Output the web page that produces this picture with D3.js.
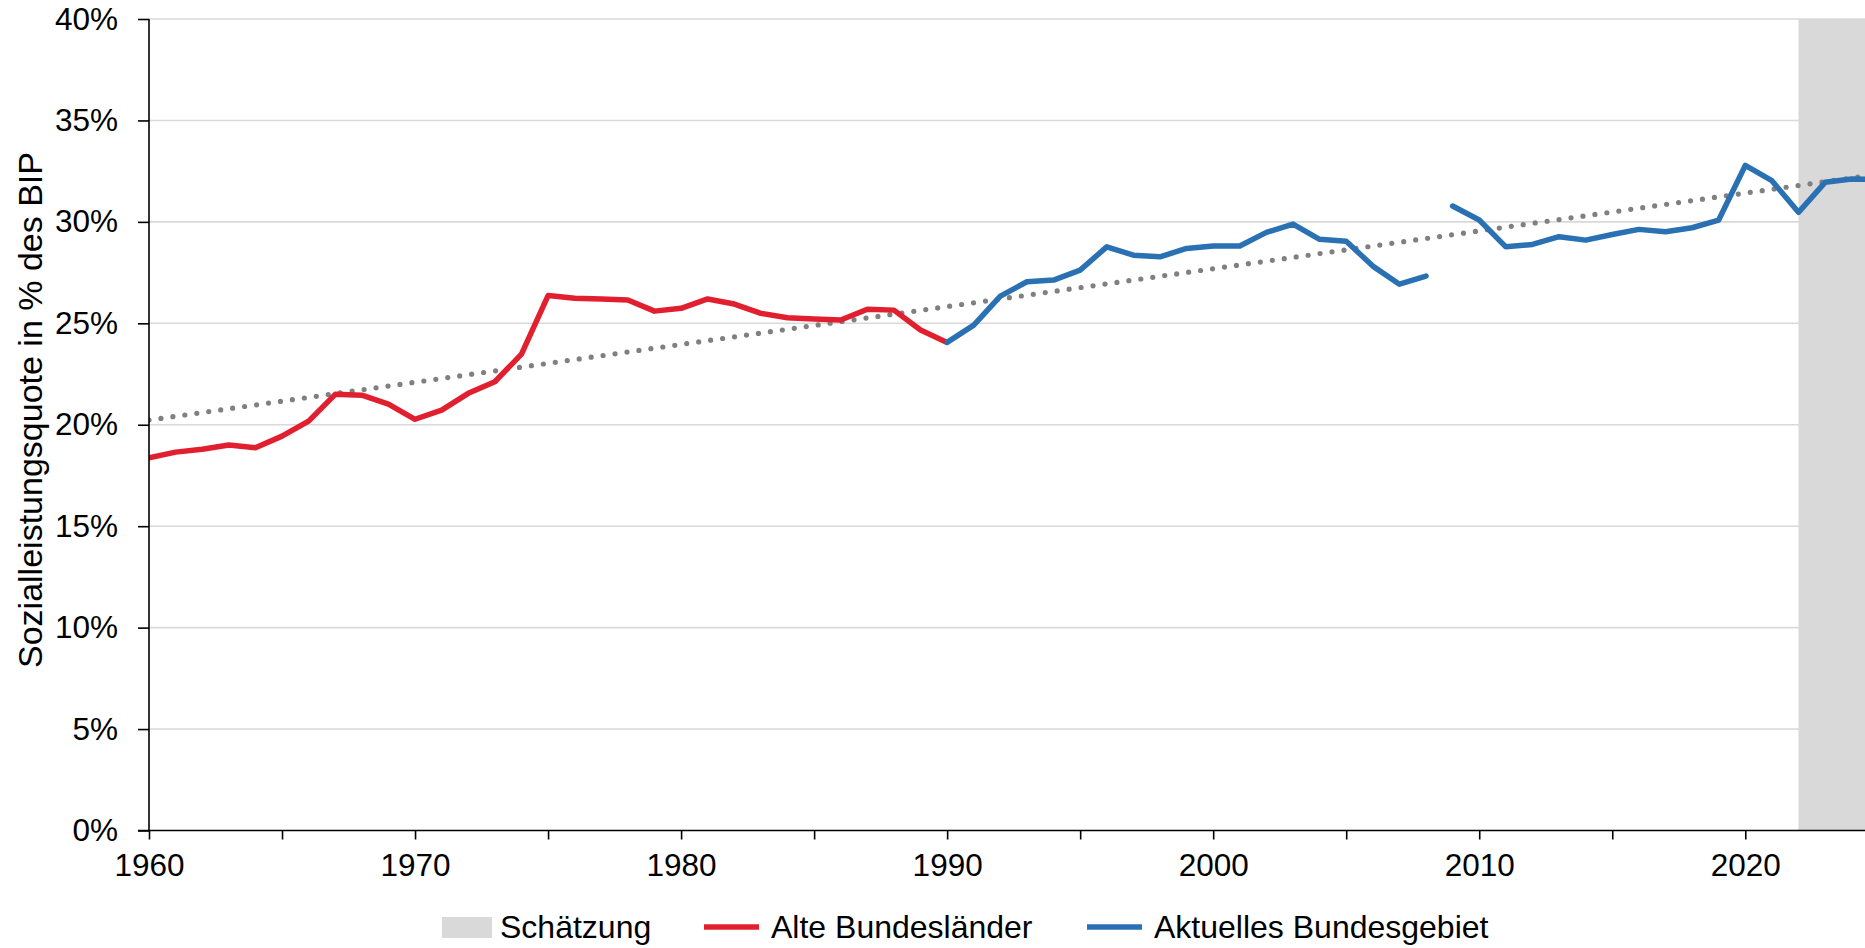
<!doctype html>
<html>
<head>
<meta charset="utf-8">
<script src="https://cdnjs.cloudflare.com/ajax/libs/d3/7.8.5/d3.min.js"></script>
<style>
  body { margin: 0; background: #fff; }
  svg { display: block; font-family: "Liberation Sans", Arial, sans-serif; }
</style>
</head>
<body>
<svg width="1865" height="948"></svg>
<script>
// Alte Bundesländer 1960-1990
var redYears = d3.range(1960, 1991);
var redValues = [18.37, 18.65, 18.79, 19.0, 18.87, 19.44, 20.18, 21.5, 21.46, 21.02,
                 20.27, 20.72, 21.55, 22.12, 23.48, 26.37, 26.23, 26.2, 26.15, 25.6,
                 25.74, 26.2, 25.95, 25.49, 25.27, 25.21, 25.16, 25.69, 25.65, 24.67,
                 24.06];

// Aktuelles Bundesgebiet, two pieces (break between 2008 and 2009)
var blueYearsA = d3.range(1990, 2009);
var blueValuesA = [24.06, 24.91, 26.34, 27.05, 27.13, 27.62, 28.77, 28.36, 28.28, 28.69,
                   28.81, 28.81, 29.48, 29.89, 29.14, 29.05, 27.82, 26.93, 27.33];
var blueYearsB = d3.range(2009, 2026);
var blueValuesB = [30.78, 30.09, 28.77, 28.89, 29.27, 29.1, 29.38, 29.63, 29.51, 29.71,
                   30.09, 32.78, 32.03, 30.47, 31.95, 32.11, 32.1];

// linear trend (dotted)
var trendYears = [1960, 2024.5];
var trendValues = [20.23, 32.26];

// Schätzung (estimate) range
var estimateRange = [2022, 2024.5];

var yTicks = [0, 5, 10, 15, 20, 25, 30, 35, 40];
var xLabelYears = [1960, 1970, 1980, 1990, 2000, 2010, 2020];
var xTickYears = d3.range(1960, 2025, 5);

var legendItems = ["Schätzung", "Alte Bundesländer", "Aktuelles Bundesgebiet"];

var red = "#e21f2e", blue = "#2a71b3", grey = "#d9d9d9";
var pLeft = 149, pRight = 1865, pTop = 19, pBottom = 830.5;

var svg = d3.select("svg");
var x = d3.scaleLinear().domain([1960, 2024.5]).range([pLeft, pRight]);
var y = d3.scaleLinear().domain([0, 40]).range([pBottom, pTop]);

svg.append("defs").append("clipPath").attr("id", "plot")
   .append("rect").attr("x", pLeft).attr("y", 0)
   .attr("width", pRight - pLeft).attr("height", pBottom + 10);

// gridlines
svg.append("g").selectAll("line")
   .data(yTicks.slice(1))
   .enter().append("line")
   .attr("x1", pLeft).attr("x2", pRight)
   .attr("y1", d => y(d)).attr("y2", d => y(d))
   .style("stroke", grey).style("stroke-width", "1.6px");

// shaded estimate
svg.append("rect")
   .attr("x", x(estimateRange[0])).attr("y", pTop)
   .attr("width", x(estimateRange[1]) - x(estimateRange[0]))
   .attr("height", pBottom - pTop)
   .style("fill", grey);

var plot = svg.append("g").attr("clip-path", "url(#plot)");

var line = d3.line().x(d => x(d[0])).y(d => y(d[1]));

plot.append("path")
   .attr("d", line(d3.zip(trendYears, trendValues)))
   .style("fill", "none").style("stroke", "#808080")
   .style("stroke-width", "5.2px").style("stroke-linecap", "round")
   .style("stroke-dasharray", "0 12.07");

plot.append("path")
   .attr("d", line(d3.zip(redYears, redValues)))
   .style("fill", "none").style("stroke", red)
   .style("stroke-width", "5.5px").style("stroke-linejoin", "round");

[[blueYearsA, blueValuesA], [blueYearsB, blueValuesB]].forEach(s => {
  plot.append("path")
     .attr("d", line(d3.zip(s[0], s[1])))
     .style("fill", "none").style("stroke", blue)
     .style("stroke-width", "5.5px").style("stroke-linejoin", "round")
     .style("stroke-linecap", "round");
});

// axes
var yAxis = svg.append("g")
   .attr("transform", "translate(" + pLeft + ",0)")
   .call(d3.axisLeft(y).tickValues(yTicks).tickSize(11).tickPadding(20)
         .tickFormat(d => d + "%"));
yAxis.select(".domain").attr("d", "M0," + pTop + "V" + pBottom);

var xAxis = svg.append("g")
   .attr("transform", "translate(0," + pBottom + ")")
   .call(d3.axisBottom(x).tickValues(xTickYears).tickSize(9).tickPadding(14)
         .tickFormat(d => xLabelYears.indexOf(d) >= 0 ? d : ""));
xAxis.select(".domain").attr("d", "M" + (pLeft - 11) + ",0H" + pRight);

svg.selectAll(".domain").style("stroke", "#000").style("stroke-width", "1.6px");
svg.selectAll(".tick line").style("stroke", "#000").style("stroke-width", "1.6px");
svg.selectAll(".tick text").style("font-size", "31.5px").style("fill", "#000")
   .style("font-family", "'Liberation Sans', Arial, sans-serif");

// y title
svg.append("text")
   .attr("transform", "translate(42,410) rotate(-90)")
   .attr("text-anchor", "middle")
   .style("font-size", "34px")
   .text("Sozialleistungsquote in % des BIP");

// legend
var lg = svg.append("g").attr("transform", "translate(0,927)");
lg.append("rect").attr("x", 442).attr("y", -10).attr("width", 50).attr("height", 21)
  .style("fill", grey);
lg.append("text").attr("x", 500).attr("y", 11).style("font-size", "32px").text(legendItems[0]);
lg.append("line").attr("x1", 704).attr("x2", 759).attr("y1", 0).attr("y2", 0)
  .style("stroke", red).style("stroke-width", "5.5px");
lg.append("text").attr("x", 771).attr("y", 11).style("font-size", "32px").text(legendItems[1]);
lg.append("line").attr("x1", 1087).attr("x2", 1142).attr("y1", 0).attr("y2", 0)
  .style("stroke", blue).style("stroke-width", "5.5px");
lg.append("text").attr("x", 1154).attr("y", 11).style("font-size", "32px").text(legendItems[2]);
</script>
</body>
</html>
